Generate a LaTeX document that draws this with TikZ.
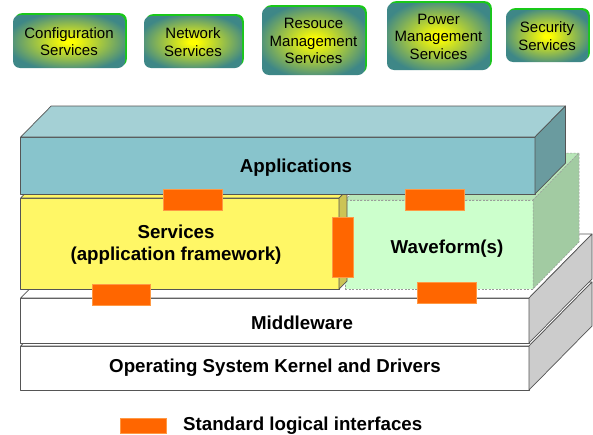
\documentclass[tikz,border=0pt]{standalone}
\usepackage{fontspec}
\setmainfont{Liberation Sans}
\usetikzlibrary{shadows}
\definecolor{tealc}{HTML}{3E8787}
\definecolor{appfront}{HTML}{88C4CC}
\definecolor{apptop}{HTML}{A4D0D5}
\definecolor{appside}{HTML}{6A9B9F}
\definecolor{yelfront}{HTML}{FFF766}
\definecolor{yelside}{HTML}{CCC455}
\definecolor{wavefront}{HTML}{CCFFCC}
\definecolor{waveside}{HTML}{A2CBA2}
\definecolor{wavetop}{HTML}{B8E6B8}
\definecolor{grayside}{HTML}{CCCCCC}
\definecolor{edgec}{HTML}{555555}
\definecolor{ifc}{HTML}{FF6600}
\definecolor{ifcedge}{HTML}{FF9944}
\definecolor{glow}{HTML}{19C819}
\pgfdeclareradialshading{svcshade}{\pgfpoint{0bp}{0bp}}{color(0bp)=(yellow); color(2bp)=(yellow); color(28bp)=(tealc); color(50bp)=(tealc)}
\tikzset{
  face/.style={draw=edgec, line width=0.7pt, line join=round},
  front/.style={face, inner sep=0pt, outer sep=0pt},
  wave/.style={draw=gray!80, dash pattern=on 2pt off 1.5pt, line width=0.5pt, line join=round},
  lbl/.style={font=\fontsize{18.7}{22}\selectfont\bfseries, inner sep=0pt, align=center},
  ifcbox/.style={fill=ifc, draw=ifcedge, line width=0.6pt, inner sep=0pt, outer sep=0pt},
  svc/.style={rounded corners=7pt, shading=svcshade, inner sep=0pt, align=center,
    font=\fontsize{15}{17.5}\selectfont,
    general shadow={fill=glow, shadow xshift=1.8pt, shadow yshift=1.8pt}},
}
\begin{document}
\begin{tikzpicture}[x=1pt,y=-1pt]
\useasboundingbox[fill=white] (0,0) rectangle (593,434);

% top service boxes
\node[svc, minimum width=112, minimum height=53] (cfg) at (69,41.5) {Configuration\\Services};
\node[svc, minimum width=98, minimum height=52] (net) at (193,42) {Network\\Services};
\node[svc, minimum width=103, minimum height=68] (res) at (313.5,41) {Resouce\\Management\\Services};
\node[svc, minimum width=103, minimum height=67] (pwr) at (438.5,36.5) {Power\\Management\\Services};
\node[svc, minimum width=82, minimum height=52] (sec) at (547,36) {Security\\Services};

% OS layer
\node[front, fill=white, minimum width=508.3, minimum height=44] (osf) at (274.85,368) {};
\draw[face, fill=white] (osf.north west) -- ++(63,-64) -- ([shift={(63,-64)}]osf.north east) -- (osf.north east) -- cycle;
\draw[face, fill=grayside] (osf.north east) -- ++(63,-64) -- ([shift={(63,-64)}]osf.south east) -- (osf.south east) -- cycle;

% Middleware layer
\node[front, fill=white, minimum width=508.3, minimum height=45] (mwf) at (274.85,320.5) {};
\draw[face, fill=white] (mwf.north west) -- ++(63,-64) -- ([shift={(63,-64)}]mwf.north east) -- (mwf.north east) -- cycle;
\draw[face, fill=grayside] (mwf.north east) -- ++(63,-64) -- ([shift={(63,-64)}]mwf.south east) -- (mwf.south east) -- cycle;

% Waveform box
\node[wave, fill=wavefront, inner sep=0pt, outer sep=0pt, minimum width=188, minimum height=89] (wvf) at (439,244.5) {};
\draw[wave, fill=wavetop] (wvf.north west) -- ++(46,-47) -- ([shift={(46,-47)}]wvf.north east) -- (wvf.north east) -- cycle;
\draw[wave, fill=waveside] (wvf.north east) -- ++(46,-47) -- ([shift={(46,-47)}]wvf.south east) -- (wvf.south east) -- cycle;

% Services (yellow) box
\node[front, fill=yelfront, minimum width=318.3, minimum height=91] (yf) at (179.85,243.5) {};
\draw[face, fill=yelfront] (yf.north west) -- ++(8,-8) -- ([shift={(8,-8)}]yf.north east) -- (yf.north east) -- cycle;
\draw[face, fill=yelside] (yf.north east) -- ++(8,-8) -- ([shift={(8,-8)}]yf.south east) -- (yf.south east) -- cycle;

% Applications box
\node[front, fill=appfront, minimum width=514.3, minimum height=57] (apf) at (277.85,165.5) {};
\draw[face, fill=apptop] (apf.north west) -- ++(30.5,-31) -- ([shift={(30.5,-31)}]apf.north east) -- (apf.north east) -- cycle;
\draw[face, fill=appside] (apf.north east) -- ++(30.5,-31) -- ([shift={(30.5,-31)}]apf.south east) -- (apf.south east) -- cycle;

% interfaces
\node[ifcbox, minimum width=59, minimum height=21] (i1) at (192.5,199.5) {};
\node[ifcbox, minimum width=59, minimum height=21] (i2) at (434.5,199.5) {};
\node[ifcbox, minimum width=21, minimum height=60] (i3) at (342.5,247) {};
\node[ifcbox, minimum width=58, minimum height=21] (i4) at (121,294.5) {};
\node[ifcbox, minimum width=59, minimum height=21] (i5) at (446.5,292.5) {};
\node[ifcbox, minimum width=46, minimum height=15] (lg) at (143,425.5) {};

% labels
\node[lbl, anchor=base] (tapp) at (296,172) {Applications};
\node[lbl] (tsvc) at (176,245) {Services\\(application framework)};
\node[lbl, anchor=base] (twv) at (447,253) {Waveform(s)};
\node[lbl, anchor=base] (tmw) at (302,329) {Middleware};
\node[lbl, anchor=base] (tos) at (275,372) {Operating System Kernel and Drivers};
\node[lbl, anchor=base west] (tlg) at (183,430) {Standard logical interfaces};
\end{tikzpicture}
\end{document}
